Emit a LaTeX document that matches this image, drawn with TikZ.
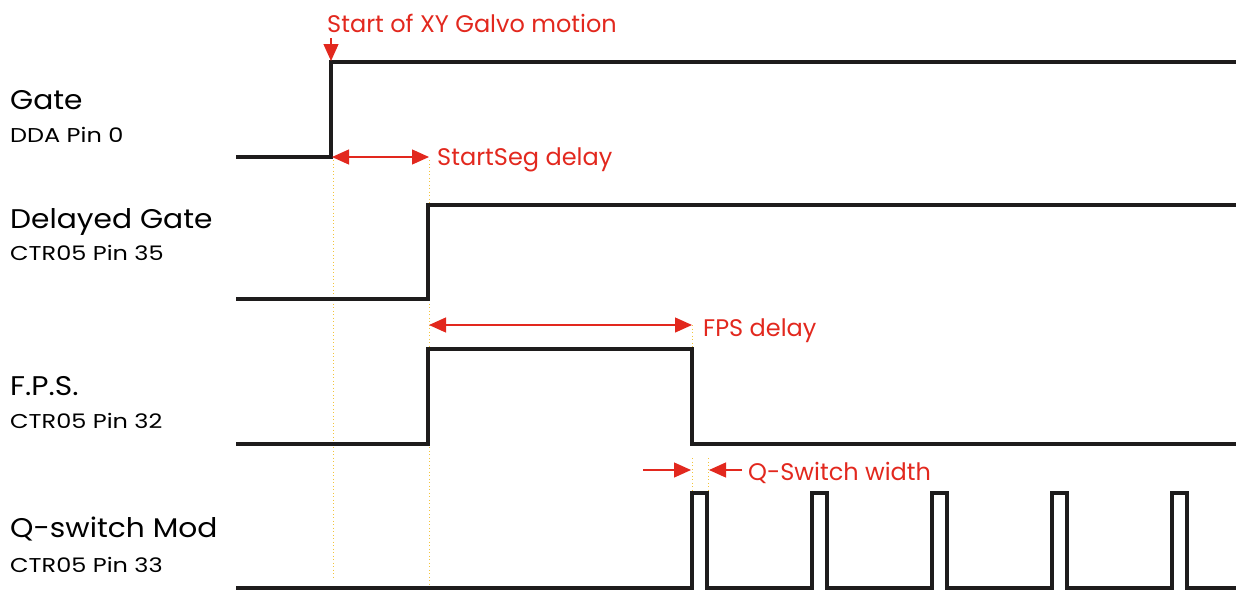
\documentclass[tikz,border=0pt]{standalone}
\usepackage{fontspec}
\setmainfont{Poppins}
\newfontfamily\bigfont[FakeStretch=1.1]{Poppins}
\newfontfamily\smallfont[FakeStretch=1.2]{Poppins}
\usetikzlibrary{arrows.meta}
\definecolor{ared}{RGB}{226,40,30}
\definecolor{dotc}{RGB}{242,196,60}
\tikzset{
  sig/.style={line width=3.2pt, draw={rgb,255:red,30;green,28;blue,28}, line join=miter},
  guide/.style={dotc, line width=1pt, dash pattern=on 1pt off 2.5pt},
  dim/.style={ared, line width=1.3pt, -{Triangle[length=17pt,width=15pt]}},
  dimboth/.style={ared, line width=1.3pt, {Triangle[length=17pt,width=15pt]}-{Triangle[length=17pt,width=15pt]}},
  big/.style={anchor=base west, inner sep=0pt, font=\bigfont\fontsize{27}{30}\selectfont},
  small/.style={anchor=base west, inner sep=0pt, font=\smallfont\fontsize{20}{22}\selectfont},
  note/.style={anchor=base west, inner sep=0pt, text=ared, font=\fontsize{24}{28}\selectfont},
}
\begin{document}
\begin{tikzpicture}[x=1pt,y=-1pt]
\useasboundingbox (0,0) rectangle (1236,589);
% labels
\node[big] (lg) at (10,109) {Gate};
\node[small] (lgp) at (10,142) {DDA Pin 0};
\node[big] (ldg) at (10,228) {Delayed Gate};
\node[small] (ldgp) at (10,260) {CTR05 Pin 35};
\node[big] (lf) at (10,395) {F.P.S.};
\node[small] (lfp) at (10,428) {CTR05 Pin 32};
\node[big] (lq) at (10,537) {Q-switch Mod};
\node[small] (lqp) at (10,572) {CTR05 Pin 33};
% guides
\draw[guide] (333,160) -- (333,578);
\draw[guide] (429,160) -- (429,586);
\draw[guide] (692,325) -- (692,349);
\draw[guide] (692,458) -- (692,493);
\draw[guide] (708,458) -- (708,493);
% signals
\draw[sig] (236,157) -- (331,157) -- (331,62) -- (1236,62);
\draw[sig] (236,299) -- (428,299) -- (428,205) -- (1236,205);
\draw[sig] (236,444) -- (428,444) -- (428,349) -- (692,349) -- (692,444) -- (1236,444);
\draw[sig] (236,588) -- (692,588) -- (692,493) -- (707,493) -- (707,588)
  -- (812,588) -- (812,493) -- (827,493) -- (827,588)
  -- (932,588) -- (932,493) -- (947,493) -- (947,588)
  -- (1052,588) -- (1052,493) -- (1067,493) -- (1067,588)
  -- (1172,588) -- (1172,493) -- (1187,493) -- (1187,588) -- (1236,588);
% coordinates for dimensions
\coordinate (galvoTop) at (331,38);
\coordinate (galvoEdge) at (331,61);
\coordinate (ssA) at (332,157);
\coordinate (ssB) at (429,157);
\coordinate (fpA) at (429,325);
\coordinate (fpB) at (692,325);
\coordinate (qL0) at (643,470);
\coordinate (qL1) at (691,470);
\coordinate (qR0) at (742,470);
\coordinate (qR1) at (709,470);
% dimensions
\draw[dim] (galvoTop) -- (galvoEdge);
\draw[dimboth] (ssA) -- (ssB);
\draw[dimboth] (fpA) -- (fpB);
\draw[dim] (qL0) -- (qL1);
\draw[dim] (qR0) -- (qR1);
% notes
\node[note] (tg) at (327,32) {Start of XY Galvo motion};
\node[note] (tss) at (437,165) {StartSeg delay};
\node[note] (tfp) at (703,336) {FPS delay};
\node[note] (tq) at (748,480) {Q-Switch width};
\end{tikzpicture}
\end{document}
